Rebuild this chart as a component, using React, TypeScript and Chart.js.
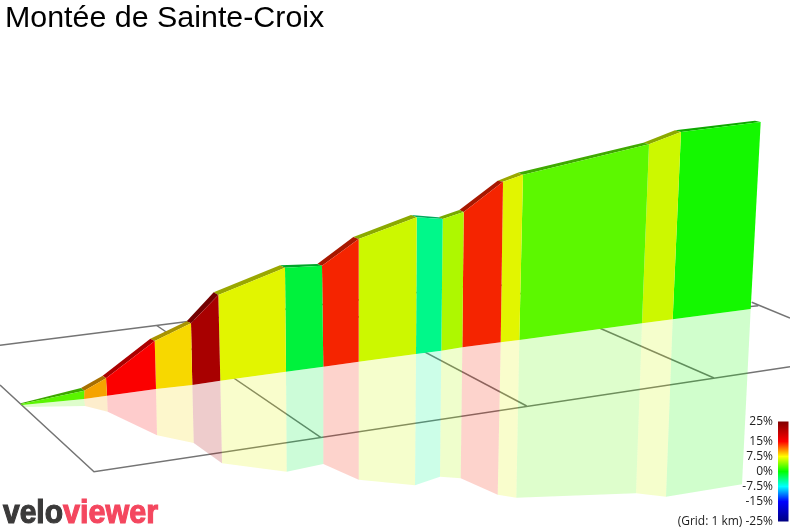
import { useEffect, useRef } from "react";
import Chart from "chart.js/auto";

const TITLE = "Montée de Sainte-Croix";

// values, one per wall vertex, in plot units (0-790 across, 0-529 down)
const crestX = [21, 84.3, 106, 154.7, 191, 218.3, 285, 322, 358.7, 416.7, 442.7, 463.7, 503, 523, 649, 681, 760.7];
const crestY = [404, 390.7, 378.3, 341, 323.3, 295, 267.7, 265.7, 239, 217.3, 219, 212, 181.7, 174.7, 144.3, 132, 122];
const ridgeX = [20.7, 81, 102.7, 150.3, 186.7, 213.7, 280, 317.3, 353.3, 411, 438.3, 459.3, 497.7, 517.7, 643.3, 675, 755];
const ridgeY = [403.3, 388, 375.7, 338.7, 321.3, 292.3, 265.3, 264, 237, 215, 217.3, 210, 180.7, 172.7, 142.7, 130.3, 120.7];
const baseX = [22, 84, 107, 156, 192.3, 220.3, 286, 323.3, 358.7, 416, 441.3, 462.3, 500.7, 519.3, 642, 672.7, 750.7];
const baseY = [405, 399, 395.7, 389, 385, 380.7, 371.7, 366.7, 361.7, 354, 350.7, 347.3, 342.3, 340, 323.3, 319.3, 309];
const mirrorX = [24, 85, 107.7, 157, 193.7, 222, 286.7, 323.3, 358.7, 415, 440, 460.7, 497.7, 516.3, 636, 666, 742];
const mirrorY = [407, 406, 411.7, 435.3, 443, 463.3, 471.7, 464, 479.7, 485.3, 476.7, 478.3, 494.7, 497.7, 493.3, 496.7, 484.3];

// one colour per stretch between two vertices, [r, g, b]
const stretchColors = [
  [90, 245, 0], [245, 163, 0], [251, 0, 0], [247, 216, 0],
  [168, 0, 0], [226, 245, 0], [0, 242, 60], [245, 36, 0],
  [204, 248, 0], [0, 248, 138], [174, 248, 0], [245, 36, 0],
  [226, 245, 0], [92, 248, 0], [204, 248, 0], [20, 248, 0],
];

const gridOuter = [[0, 385], [94, 471.7], [790, 366.7]];
const gridBack = [[0, 345.3], [500, 282]];
const gridCrossA = [[156.7, 325.5], [320.7, 437.3]];
const gridCrossB = [[333, 303.3], [526.7, 406]];
const gridCrossC = [[495.7, 282.8], [714, 378]];
const gridCrossD = [[751.7, 302.3], [790, 318]];
const gridStub = [[740, 307.5], [758.3, 305.7]];

const gradeTicks = [25, 15, 7.5, 0, -7.5, -15, -25];
const gradeColors = ["#800000", "#ff0000", "#ffff00", "#00ff00", "#00ffff", "#0000ff", "#000080"];

const rgb = (c: number[], k = 1) => `rgb(${c.map((v) => Math.round(v * k)).join(",")})`;
const rgba = (c: number[], a: number) => `rgba(${c.join(",")},${a})`;
const pts = (list: number[][]) => list.map(([x, y]) => ({ x, y }));

// Chart.js has no free polygon fill, so fill between the points it has already scaled
const polygonFill = {
  id: "polygonFill",
  beforeDatasetDraw(chart: any, args: any) {
    const ds = chart.data.datasets[args.index];
    if (!ds.polygon) return;
    const { ctx } = chart;
    const p = args.meta.data;
    let fill = ds.backgroundColor;
    if (ds.gradient) {
      fill = ctx.createLinearGradient(0, p[0].y, 0, p[2].y);
      gradeTicks.forEach((g, i) => fill.addColorStop((25 - g) / 50, gradeColors[i]));
    }
    ctx.save();
    ctx.beginPath();
    p.forEach((pt: any, i: number) => (i ? ctx.lineTo(pt.x, pt.y) : ctx.moveTo(pt.x, pt.y)));
    ctx.closePath();
    ctx.fillStyle = fill;
    ctx.fill();
    ctx.restore();
  },
};

const logo = {
  id: "logo",
  afterDraw(chart: any) {
    const { ctx } = chart;
    ctx.save();
    ctx.font = "bold 34px Liberation Sans";
    ctx.textBaseline = "alphabetic";
    ctx.lineWidth = 1.2;
    ctx.fillStyle = ctx.strokeStyle = "#3b3a3a";
    ctx.fillText("velo", 3, 523, 60);
    ctx.strokeText("velo", 3, 523, 60);
    ctx.fillStyle = ctx.strokeStyle = "#f4475f";
    ctx.fillText("viewer", 63, 523, 95);
    ctx.strokeText("viewer", 63, 523, 95);
    ctx.restore();
  },
};

function buildDatasets() {
  const sets: any[] = [];
  const line = (data: number[][]) => ({
    data: pts(data),
    showLine: true,
    borderColor: "#747474",
    borderWidth: 1.5,
    pointRadius: 0,
    clip: false,
    order: 4,
  });
  [gridOuter, gridBack, gridCrossA, gridCrossB, gridCrossC, gridCrossD, gridStub].forEach((g) => sets.push(line(g)));

  const poly = (data: number[][], color: string, order: number) => ({
    data: pts(data),
    polygon: true,
    backgroundColor: color,
    showLine: false,
    pointRadius: 0,
    clip: false,
    order,
  });
  stretchColors.forEach((c, i) => {
    const j = i + 1;
    sets.push(poly([[baseX[i], baseY[i]], [baseX[j], baseY[j]], [mirrorX[j], mirrorY[j]], [mirrorX[i], mirrorY[i]]], rgba(c, 0.2), 3));
    sets.push(poly([[ridgeX[i], ridgeY[i]], [ridgeX[j], ridgeY[j]], [crestX[j], crestY[j]], [crestX[i], crestY[i]]], rgb(c, 0.68), 2));
    sets.push(poly([[crestX[i], crestY[i]], [crestX[j], crestY[j]], [baseX[j], baseY[j]], [baseX[i], baseY[i]]], rgb(c), 1));
  });

  sets.push({
    data: pts([[778, 25], [788.5, 25], [788.5, -25], [778, -25]]),
    yAxisID: "grade",
    polygon: true,
    gradient: true,
    showLine: false,
    pointRadius: 0,
    clip: false,
    order: 0,
  });
  return sets;
}

export default function App() {
  const canvasRef = useRef<HTMLCanvasElement>(null);

  useEffect(() => {
    if (!canvasRef.current) return;
    const chart = new Chart(canvasRef.current, {
      type: "scatter",
      data: { datasets: buildDatasets() },
      plugins: [polygonFill, logo],
      options: {
        responsive: false,
        animation: false,
        events: [],
        layout: { autoPadding: false, padding: { left: 5 } },
        plugins: {
          legend: { display: false },
          tooltip: { enabled: false },
          title: {
            display: true,
            text: TITLE,
            align: "start",
            color: "#000000",
            font: { family: "Liberation Sans", size: 30.4, weight: "normal", lineHeight: "34px" },
            padding: { top: 2, bottom: 0 },
          },
        },
        scales: {
          x: { type: "linear", min: 5, max: 790, display: false },
          y: { type: "linear", min: 36, max: 529, reverse: true, display: false },
          grade: {
            type: "linear",
            axis: "y",
            min: -28.75,
            max: 217.75,
            position: { x: 773 },
            grid: { display: false },
            border: { display: false },
            // the tick labels must not push the plot area in from the bottom edge
            afterFit: (scale: any) => {
              scale.paddingTop = scale.paddingBottom = scale.paddingLeft = scale.paddingRight = 0;
            },
            afterBuildTicks: (scale: any) => {
              scale.ticks = gradeTicks.map((value) => ({ value }));
            },
            ticks: {
              autoSkip: false,
              padding: 0,
              color: "#222222",
              font: { family: "Open Sans", size: 12 },
              callback: (v: any) => (v === -25 ? "(Grid: 1 km) -25%" : `${v}%`),
            },
          },
        },
      } as any,
    });
    return () => chart.destroy();
  }, []);

  return (
    <div style={{ position: "absolute", left: 0, top: 0, width: 790, height: 529, background: "#fff" }}>
      <canvas ref={canvasRef} width={790} height={529} style={{ display: "block" }} />
    </div>
  );
}
